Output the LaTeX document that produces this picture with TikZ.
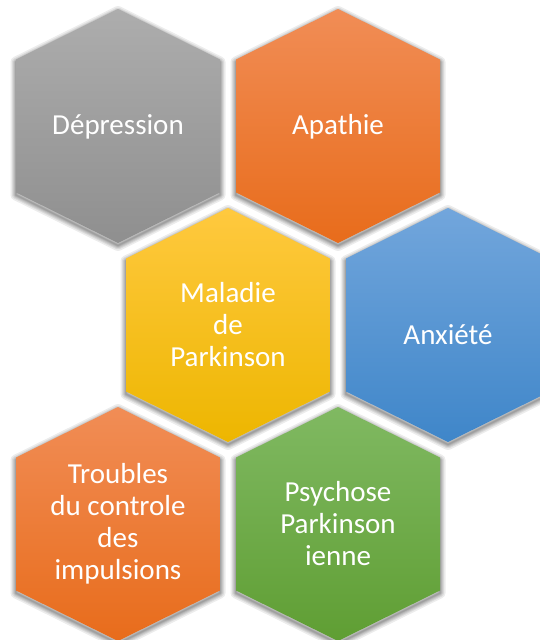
\documentclass[tikz,border=0pt]{standalone}
\usepackage{fontspec}
\setmainfont{Carlito}
\definecolor{grayT}{HTML}{ADADAD}\definecolor{grayM}{HTML}{A2A2A2}\definecolor{grayB}{HTML}{8F8F8F}
\definecolor{orT}{HTML}{F18D56}\definecolor{orM}{HTML}{F27B2C}\definecolor{orB}{HTML}{E86C1B}
\definecolor{yeT}{HTML}{FFC93F}\definecolor{yeM}{HTML}{FFC000}\definecolor{yeB}{HTML}{EDB600}
\definecolor{blT}{HTML}{72A6DC}\definecolor{blM}{HTML}{5B9BD5}\definecolor{blB}{HTML}{3F86C9}
\definecolor{grT}{HTML}{80B962}\definecolor{grM}{HTML}{70AD47}\definecolor{grB}{HTML}{5F9E33}
\tikzset{
  hexlabel/.style={text=white, align=center, font=\fontsize{29}{32}\selectfont, inner sep=0pt},
  hexshadow/.style={draw=black, draw opacity=0.075, line join=round}
}
\newcommand\hexoutline{(0,-117) -- (102,-66.5) -- (102,66.5) -- (0,117) -- (-102,66.5) -- (-102,-66.5) -- cycle}
\newcommand\hexcell[8]{%
  \begin{scope}[shift={(#2,#3)}]
    \begin{scope}[yshift=-2.5pt]
      \foreach \w in {11,8,6,4,2.5,1.2}{\draw[hexshadow, line width=\w pt] \hexoutline;}
    \end{scope}
    \shade[top color=#4, middle color=#5, bottom color=#6] \hexoutline;
  \end{scope}
  \node[hexlabel] (#1) at (#2,#7) {#8};
}
\begin{document}
\begin{tikzpicture}[x=1pt,y=-1pt]
\useasboundingbox (0,0) rectangle (540,640);
\clip (0,0) rectangle (540,640);
\fill[white] (0,0) rectangle (540,640);
\hexcell{dep}{118}{126}{grayT}{grayM}{grayB}{127}{Dépression}
\hexcell{apa}{338}{126}{orT}{orM}{orB}{127}{Apathie}
\hexcell{mal}{228}{325}{yeT}{yeM}{yeB}{325}{Maladie\\de\\Parkinson}
\hexcell{anx}{448}{325}{blT}{blM}{blB}{335}{Anxiété}
\hexcell{tro}{118}{524}{orT}{orM}{orB}{524}{Troubles\\du controle\\des\\impulsions}
\hexcell{psy}{338}{524}{grT}{grM}{grB}{524}{Psychose\\Parkinson\\ienne}
\end{tikzpicture}
\end{document}
